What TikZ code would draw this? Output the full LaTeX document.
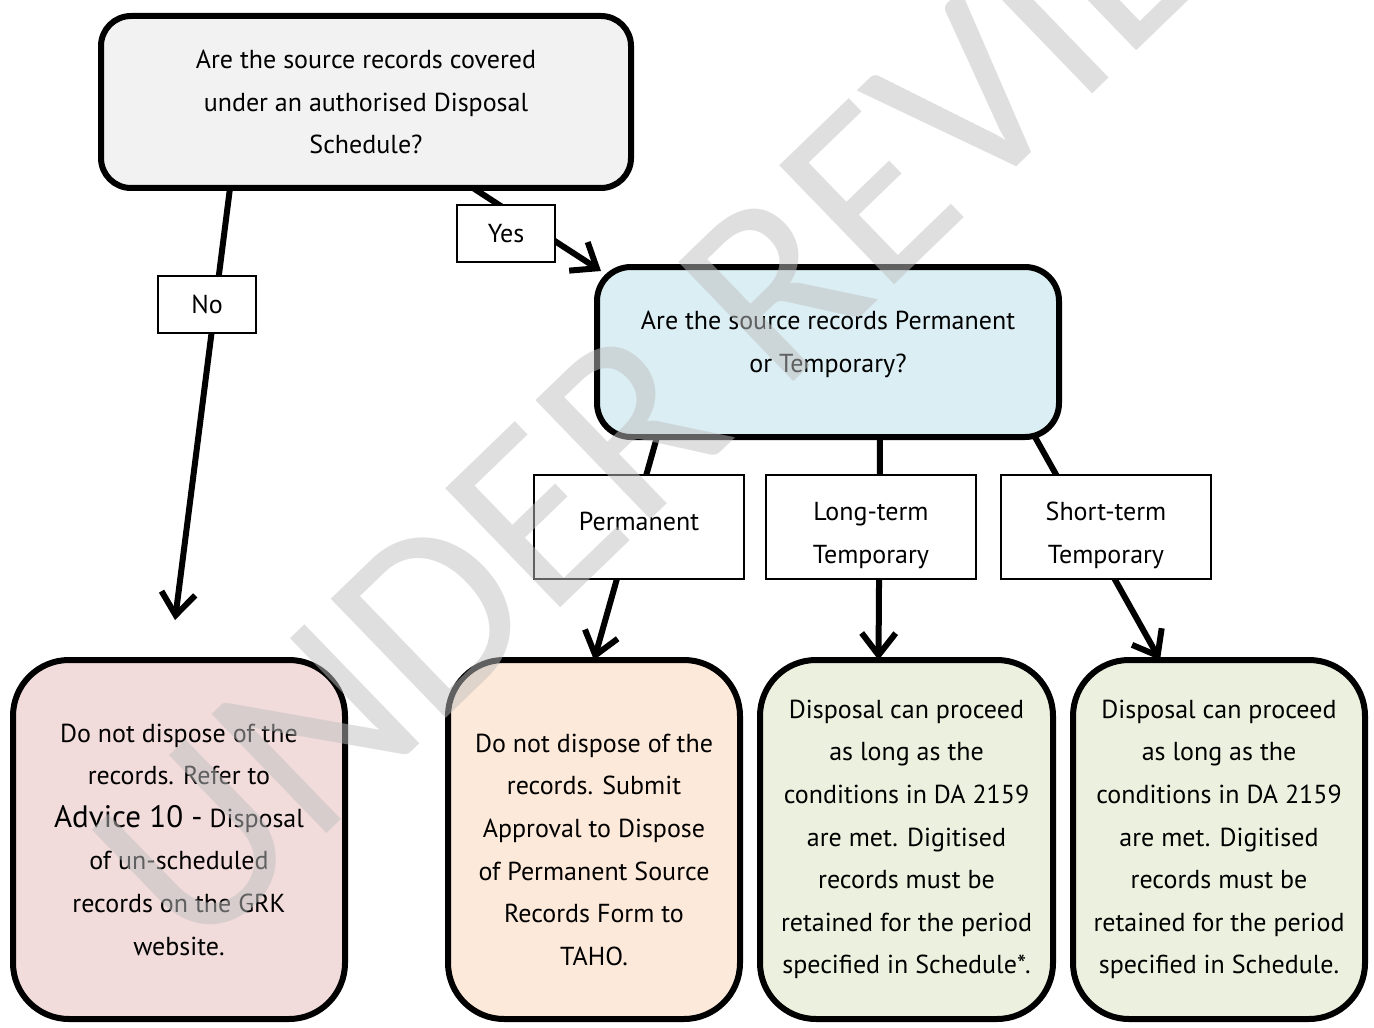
\documentclass[tikz,border=0pt]{standalone}
\usepackage{fontspec}
\setmainfont{PT Sans}
\newfontfamily\wmfont{Carlito}
\usepackage{tikz}
\usetikzlibrary{arrows.meta}
\definecolor{askgray}{HTML}{F2F2F2}
\definecolor{kindblue}{HTML}{DAEEF3}
\definecolor{nopink}{HTML}{F2DCDB}
\definecolor{permpeach}{HTML}{FDE9D9}
\definecolor{tempgreen}{HTML}{EBF1DE}
\definecolor{wmgray}{HTML}{C0C0C0}
\tikzset{
% Define standard arrow tip
>={Straight Barb[length=11pt, width=17pt]},
flowbox/.style={rectangle, draw=black, line width=3pt, align=center,
  inner sep=0, outer sep=0, font=\fontsize{13}{21.3}\selectfont},
answer/.style={rectangle, draw=black, line width=0.75pt, fill=white, align=center,
  inner sep=0, outer sep=0, font=\fontsize{13}{21.5}\selectfont},
link/.style={->, line width=3pt}
}

\begin{document}
\begin{tikzpicture}[x=0.5pt, y=-0.5pt]
  \useasboundingbox (0,0) rectangle (1374,1027);
  \clip (0,0) rectangle (1374,1027);

  % questions
  \node[flowbox, rounded corners=15pt, fill=askgray,
    minimum width=265pt, minimum height=86pt] (ask) at (366,102)
    {Are the source records covered\\under an authorised Disposal\\Schedule?};
  \node[flowbox, rounded corners=17pt, fill=kindblue,
    minimum width=231pt, minimum height=85pt] (kind) at (828,352)
    {Are the source records Permanent\\or Temporary?\\[-11.3pt]};

  % outcomes
  \node[flowbox, rounded corners=28pt, fill=nopink,
    minimum width=166pt, minimum height=179.5pt] (unsched) at (179,839.5)
    {Do not dispose of the\\records. Refer to\\{\fontsize{15.5}{21.3}\selectfont Advice 10 -} Disposal\\of un-scheduled\\records on the GRK\\website.};
  \node[flowbox, rounded corners=28pt, fill=permpeach,
    minimum width=146pt, minimum height=179.5pt] (perm) at (594,839.5)
    {\rule{0pt}{19.4pt}Do not dispose of the\\records. Submit\\Approval to Dispose\\of Permanent Source\\Records Form to\\TAHO.};
  \node[flowbox, rounded corners=28pt, fill=tempgreen,
    minimum width=146.5pt, minimum height=179.5pt] (longt) at (906.5,839.5)
    {Disposal can proceed\\as long as the\\conditions in DA 2159\\are met. Digitised\\records must be\\retained for the period\\specified in Schedule*.};
  \node[flowbox, rounded corners=28pt, fill=tempgreen,
    minimum width=146pt, minimum height=179.5pt] (shortt) at (1219,839.5)
    {Disposal can proceed\\as long as the\\conditions in DA 2159\\are met. Digitised\\records must be\\retained for the period\\specified in Schedule.};

  % connectors
  \coordinate (noend) at ([xshift=-2pt, yshift=20pt]unsched.north);
  \draw[link] ([xshift=-68pt]ask.south) -- (noend);
  \draw[link] ([xshift=53.5pt]ask.south) -- ([shift={(2pt,-2pt)}]kind.north west);
  \draw[link] ([xshift=-85.5pt]kind.south) -- (perm.north);
  \draw[link] ([xshift=26pt]kind.south) -- ([xshift=-14pt]longt.north);
  \draw[link] ([xshift=103.5pt]kind.south) -- ([xshift=-29.5pt]shortt.north);

  % answers
  \node[answer, minimum width=49pt, minimum height=28.5pt] (no) at (207,304.5) {No};
  \node[answer, minimum width=49pt, minimum height=28.5pt] (yes) at (506,233.5) {Yes};
  \node[answer, minimum width=105pt, minimum height=52pt] (permlbl) at (639,527) {Permanent\\[-16pt]};
  \node[answer, minimum width=105pt, minimum height=52pt] (longlbl) at (871,527) {\rule{0pt}{17.4pt}Long-term\\Temporary};
  \node[answer, minimum width=105pt, minimum height=52pt] (shortlbl) at (1106,527) {\rule{0pt}{17.4pt}Short-term\\Temporary};

  % watermark
  \node[rotate=44, text=wmgray, opacity=0.5, inner sep=0,
    font=\wmfont\fontsize{129}{129}\selectfont] (review) at (730,330) {UNDER REVIEW};
\end{tikzpicture}
\end{document}
